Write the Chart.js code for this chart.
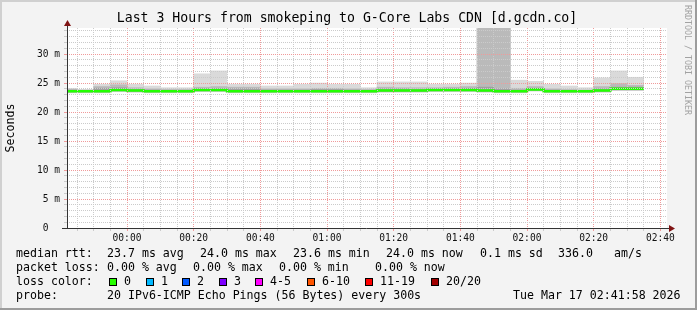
<!DOCTYPE html>
<html>
<head>
<meta charset="utf-8">
<script src="https://cdn.jsdelivr.net/npm/chart.js@4.4.1/dist/chart.umd.min.js"></script>
<style>
  html, body { margin: 0; padding: 0; background: #f3f3f3; }
  canvas { display: block; }
</style>
</head>
<body>
<canvas id="smoke" width="697" height="310"></canvas>
<script>
// 5 minute slots (start time)
const slots = ['23:40','23:45','23:50','23:55','00:00','00:05','00:10','00:15','00:20','00:25',
  '00:30','00:35','00:40','00:45','00:50','00:55','01:00','01:05','01:10','01:15',
  '01:20','01:25','01:30','01:35','01:40','01:45','01:50','01:55','02:00','02:05',
  '02:10','02:15','02:20','02:25','02:30'];

// median rtt in ms
const median = [23.6,23.6,23.6,23.8,23.7,23.6,23.6,23.6,23.8,23.8,
  23.6,23.6,23.6,23.6,23.6,23.6,23.6,23.6,23.6,23.7,
  23.7,23.7,23.8,23.8,23.8,23.7,23.6,23.6,23.9,23.6,
  23.6,23.6,23.7,24.0,24.0];

// smoke: outer (lightest) band
const smokeLo = [23.3,23.3,23.3,23.5,23.4,23.3,23.3,23.3,23.5,23.5,
  23.3,23.3,23.3,23.3,23.3,23.3,23.3,23.3,23.3,23.4,
  23.4,23.4,23.5,23.5,23.5,23.4,23.3,23.3,23.6,23.3,
  23.3,23.3,23.4,23.7,23.7];
const smokeHi = [24.1,23.9,24.8,25.4,24.8,24.5,24.2,24.2,26.6,27.1,
  24.8,24.8,24.5,24.5,24.8,25.0,24.8,24.8,24.2,25.2,
  25.2,25.2,24.8,24.8,25.0,34.5,34.5,25.5,25.3,24.8,
  24.5,24.2,25.9,27.1,26.0];

// smoke: middle band
const midLo = [23.4,23.4,23.4,23.6,23.5,23.4,23.4,23.4,23.6,23.6,
  23.4,23.4,23.4,23.4,23.4,23.4,23.4,23.4,23.4,23.5,
  23.5,23.5,23.6,23.6,23.6,23.5,23.4,23.4,23.7,23.4,
  23.4,23.4,23.5,23.8,23.8];
const midHi = [23.9,23.8,24.4,24.7,24.2,24.0,23.9,23.9,24.3,24.4,
  24.3,24.3,24.0,24.0,24.0,24.1,24.1,24.0,23.9,24.3,
  24.2,24.2,24.2,24.3,24.4,34.5,34.5,24.1,24.4,24.0,
  23.9,23.8,24.4,24.9,24.6];

// smoke: inner (darkest) band
const coreLo = [23.5,23.5,23.5,23.7,23.6,23.5,23.5,23.5,23.7,23.7,
  23.5,23.5,23.5,23.5,23.5,23.5,23.5,23.5,23.5,23.6,
  23.6,23.6,23.7,23.7,23.7,23.6,23.5,23.5,23.8,23.5,
  23.5,23.5,23.6,23.9,23.9];
const coreHi = [23.8,23.7,24.1,24.2,23.9,23.8,23.7,23.7,24.0,24.0,
  24.0,24.0,23.8,23.8,23.8,23.9,23.9,23.8,23.7,24.0,
  24.0,23.9,24.0,24.0,24.1,24.3,24.0,23.8,24.1,23.8,
  23.7,23.7,24.0,24.3,24.3];

const timeTicks = ['00:00','00:20','00:40','01:00','01:20','01:40','02:00','02:20','02:40'];
const yTicks = [0, 5, 10, 15, 20, 25, 30];
const windowStart = '23:42';
const windowEnd = '02:42';
const stepMin = 5;

const lossLabels = ['0','1','2','3','4-5','6-10','11-19','20/20'];
const lossColors = ['#26ff00','#00b8ff','#0059ff','#7e00ff','#ff00ff','#ff5500','#ff0000','#a10000'];

// minutes relative to midnight (evening hours go negative)
function toMin(s) {
  const [h, m] = s.split(':').map(Number);
  let v = h * 60 + m;
  if (h >= 12) v -= 1440;
  return v;
}

const centers = slots.map(s => toMin(s) + stepMin / 2);
const band = (lo, hi) => centers.map((x, i) => ({ x, y: [lo[i], hi[i]] }));

const medianLine = [{ x: toMin(slots[0]), y: median[0] }]
  .concat(centers.map((x, i) => ({ x, y: median[i] })))
  .concat([{ x: toMin(slots[slots.length - 1]) + stepMin, y: median[median.length - 1] }]);

const MONO = "'DejaVu Sans Mono', monospace";
const GRID_MINOR = '#cbcbcb';
const GRID_MAJOR = '#f09a9a';

const barCommon = {
  type: 'bar',
  grouped: false,
  barPercentage: 1,
  categoryPercentage: 1,
  borderWidth: 0,
};

const rrdFrame = {
  id: 'rrdFrame',
  beforeDraw(chart) {
    const { ctx, chartArea: a, width, height } = chart;
    ctx.save();
    ctx.fillStyle = '#f3f3f3';
    ctx.fillRect(0, 0, width, height);
    ctx.fillStyle = '#d0d0d0';
    ctx.fillRect(0, 0, width, 2);
    ctx.fillRect(0, 0, 2, height);
    ctx.fillStyle = '#9c9c9c';
    ctx.fillRect(0, height - 2, width, 2);
    ctx.fillRect(width - 2, 0, 2, height);
    ctx.fillStyle = '#ffffff';
    ctx.fillRect(a.left, a.top, a.right - a.left, a.bottom - a.top);
    ctx.restore();
  },
  afterDraw(chart) {
    const { ctx, chartArea: a } = chart;
    ctx.save();

    // axes with arrows
    ctx.strokeStyle = '#333333';
    ctx.lineWidth = 1;
    ctx.beginPath();
    ctx.moveTo(a.left - 5, a.bottom + 0.5);
    ctx.lineTo(a.right + 4, a.bottom + 0.5);
    ctx.moveTo(a.left + 0.5, a.bottom + 1);
    ctx.lineTo(a.left + 0.5, a.top - 3);
    ctx.stroke();
    ctx.fillStyle = '#801414';
    ctx.beginPath();
    ctx.moveTo(a.right + 2, a.bottom - 3);
    ctx.lineTo(a.right + 2, a.bottom + 4);
    ctx.lineTo(a.right + 8, a.bottom + 0.5);
    ctx.closePath();
    ctx.fill();
    ctx.beginPath();
    ctx.moveTo(a.left - 3, a.top - 2);
    ctx.lineTo(a.left + 4, a.top - 2);
    ctx.lineTo(a.left + 0.5, a.top - 8);
    ctx.closePath();
    ctx.fill();

    // title
    ctx.fillStyle = '#000000';
    ctx.textBaseline = 'middle';
    ctx.textAlign = 'center';
    ctx.font = '13.2px ' + MONO;
    ctx.fillText('Last 3 Hours from smokeping to G-Core Labs CDN [d.gcdn.co]', 347, 19);

    // y axis title
    ctx.save();
    ctx.translate(11, (a.top + a.bottom) / 2);
    ctx.rotate(-Math.PI / 2);
    ctx.font = '11.6px ' + MONO;
    ctx.fillText('Seconds', 0, 0);
    ctx.restore();

    // watermark
    ctx.save();
    ctx.translate(687, 5);
    ctx.rotate(Math.PI / 2);
    ctx.textAlign = 'left';
    ctx.fillStyle = '#a2a2a2';
    ctx.font = '8.3px ' + MONO;
    ctx.fillText('RRDTOOL / TOBI OETIKER', 0, 0);
    ctx.restore();

    // legend
    ctx.textAlign = 'left';
    ctx.font = '11.6px ' + MONO;
    const rows = [
      [254, [[16, 'median rtt:'], [107, '23.7 ms avg'], [200, '24.0 ms max'], [293, '23.6 ms min'],
             [386, '24.0 ms now'], [480, '0.1 ms sd'], [558, '336.0'], [614, 'am/s']]],
      [268, [[16, 'packet loss:'], [107, '0.00 % avg'], [193, '0.00 % max'], [279, '0.00 % min'],
             [375, '0.00 % now']]],
      [282, [[16, 'loss color:']]],
      [296, [[16, 'probe:'], [107, '20 IPv6-ICMP Echo Pings (56 Bytes) every 300s'],
             [513, 'Tue Mar 17 02:41:58 2026']]],
    ];
    rows.forEach(([y, items]) => items.forEach(([x, t]) => ctx.fillText(t, x, y)));

    const boxX = [109, 146, 182, 219, 255, 307, 365, 431];
    lossLabels.forEach((lbl, i) => {
      ctx.fillStyle = lossColors[i];
      ctx.fillRect(boxX[i], 278, 8, 8);
      ctx.strokeStyle = '#000000';
      ctx.strokeRect(boxX[i] + 0.5, 278.5, 7, 7);
      ctx.fillStyle = '#000000';
      ctx.fillText(lbl, boxX[i] + 15, 282);
    });

    ctx.restore();
  },
};

new Chart(document.getElementById('smoke'), {
  type: 'bar',
  data: {
    datasets: [
      { ...barCommon, data: band(smokeLo, smokeHi), backgroundColor: '#dadada', order: 4 },
      { ...barCommon, data: band(midLo, midHi), backgroundColor: '#bababa', order: 3 },
      { ...barCommon, data: band(coreLo, coreHi), backgroundColor: '#a0a0a0', order: 2 },
      {
        type: 'line',
        data: medianLine,
        borderColor: '#22ff00',
        borderWidth: 2.5,
        pointRadius: 0,
        stepped: 'middle',
        fill: false,
        order: 1,
      },
    ],
  },
  options: {
    responsive: false,
    animation: false,
    layout: { padding: { top: 28, right: 30, left: 0, bottom: 0 } },
    plugins: {
      legend: { display: false },
      title: { display: false },
      tooltip: { enabled: false },
    },
    scales: {
      x: {
        type: 'linear',
        offset: false,
        min: toMin(windowStart),
        max: toMin(windowEnd),
        afterBuildTicks: (s) => {
          const t = [];
          for (let v = toMin(slots[1]); v <= toMin(timeTicks[timeTicks.length - 1]); v += stepMin) t.push({ value: v });
          s.ticks = t;
        },
        afterFit: (s) => { s.height = 82; },
        grid: {
          offset: false,
          z: 1,
          color: (c) => (c.tick && c.tick.value % 20 === 0 ? GRID_MAJOR : GRID_MINOR),
          tickColor: (c) => (c.tick && c.tick.value % 20 === 0 ? GRID_MAJOR : GRID_MINOR),
          tickLength: 3,
        },
        border: { display: false, dash: [1, 1] },
        ticks: {
          autoSkip: false,
          maxRotation: 0,
          padding: 2,
          color: '#111111',
          font: { family: MONO, size: 9.6 },
          callback: (v) => {
            const i = timeTicks.findIndex((t) => toMin(t) === v);
            return i >= 0 ? timeTicks[i] : '';
          },
        },
      },
      y: {
        type: 'linear',
        min: 0,
        max: 34.5,
        afterBuildTicks: (s) => {
          const t = [];
          for (let v = 0; v <= 34; v++) t.push({ value: v });
          s.ticks = t;
        },
        afterFit: (s) => { s.width = 67; },
        grid: {
          z: 1,
          color: (c) => (c.tick && yTicks.includes(c.tick.value) ? GRID_MAJOR : GRID_MINOR),
          tickColor: (c) => (c.tick && yTicks.includes(c.tick.value) ? GRID_MAJOR : GRID_MINOR),
          tickLength: 3,
        },
        border: { display: false, dash: [1, 1] },
        ticks: {
          autoSkip: false,
          padding: 4,
          color: '#111111',
          font: { family: MONO, size: 9.6 },
          callback: (v) => (yTicks.includes(v) ? (v === 0 ? '0  ' : v + ' m') : ''),
        },
      },
    },
  },
  plugins: [rrdFrame],
});
</script>
</body>
</html>
